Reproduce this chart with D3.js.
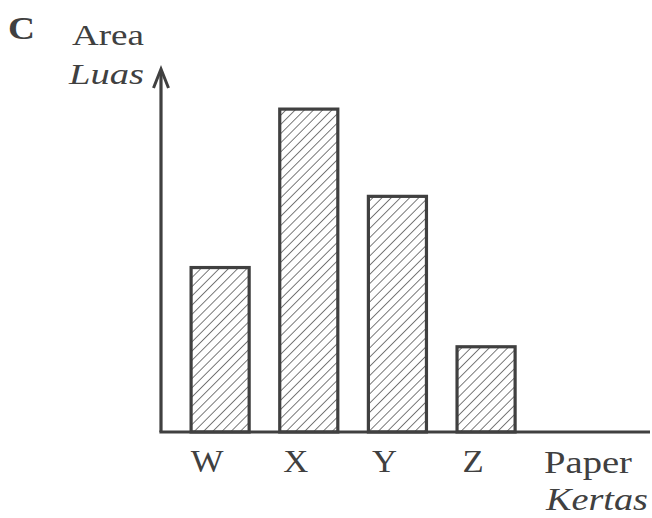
<!DOCTYPE html>
<html><head><meta charset="utf-8">
<script src="https://cdn.jsdelivr.net/npm/d3@7"></script>
<style>html,body{margin:0;padding:0;background:#fff;}svg{display:block;}</style>
</head><body>
<svg id="chart" width="652" height="518"></svg>
<script>
const categories = ["W", "X", "Y", "Z"];
const values = [16.4, 32.2, 23.5, 8.5];
const yMax = 36.2;
const yLabel = ["Area", "Luas"];
const xLabel = ["Paper", "Kertas"];
const panelLetter = "C";

(function () {
const svg = d3.select("#chart");
const ink = "#404040";
const serif = "'Liberation Serif','Times New Roman','DejaVu Serif',serif";
const base = 432, axTop = 69, x0 = 161, xEnd = 650;

const x = d3.scaleBand().domain(categories).range([175.8, 530.4]).paddingInner(0.345).paddingOuter(0.1725);
const y = d3.scaleLinear().domain([0, yMax]).range([base, axTop]);

const defs = svg.append("defs");
const pat = defs.append("pattern").attr("id", "hatch").attr("patternUnits", "userSpaceOnUse")
  .attr("width", 6.5).attr("height", 6.5).attr("patternTransform", "rotate(45)");
pat.append("line").attr("x1", 0).attr("y1", 0).attr("x2", 0).attr("y2", 6.5)
  .attr("stroke", "#333").attr("stroke-width", 1.3);

svg.append("g").selectAll("rect").data(values).join("rect")
  .attr("x", (d, i) => x(categories[i]))
  .attr("y", d => y(d))
  .attr("width", x.bandwidth())
  .attr("height", d => base - y(d))
  .attr("fill", "url(#hatch)")
  .attr("stroke", ink).attr("stroke-width", 3.2);

svg.append("line").attr("x1", x0).attr("y1", base).attr("x2", x0).attr("y2", axTop + 2)
  .attr("stroke", ink).attr("stroke-width", 3.2);
svg.append("line").attr("x1", x0 - 1.6).attr("y1", base).attr("x2", xEnd).attr("y2", base)
  .attr("stroke", ink).attr("stroke-width", 3.2);
svg.append("path").attr("d", `M${x0-7.5},${axTop+19} L${x0},${axTop} L${x0+7.5},${axTop+19}`)
  .attr("fill", "none").attr("stroke", ink).attr("stroke-width", 3).attr("stroke-linejoin", "miter");

const xAxis = svg.append("g").attr("transform", `translate(0,${base})`)
  .call(d3.axisBottom(x).tickSize(0).tickPadding(0));
xAxis.select(".domain").remove();
xAxis.selectAll("text").attr("y", 40).attr("dy", null).attr("dx", -13)
  .attr("font-family", serif).attr("font-size", 31).attr("fill", ink)
  .each(function () {
    const w = this.getComputedTextLength();
    d3.select(this).attr("textLength", w * 1.12).attr("lengthAdjust", "spacingAndGlyphs");
  });

function label(txt, xx, yy, size, w, opts) {
  const t = svg.append("text").attr("x", xx).attr("y", yy).text(txt)
    .attr("font-family", serif).attr("font-size", size).attr("fill", ink)
    .attr("textLength", w).attr("lengthAdjust", "spacingAndGlyphs");
  if (opts && opts.bold) t.attr("font-weight", "bold");
  if (opts && opts.italic) t.attr("font-style", "italic");
  return t;
}
label(panelLetter, 8, 39, 32, 27, {bold: true});
label(yLabel[0], 72, 45, 30, 72);
label(yLabel[1], 69, 84, 30, 75, {italic: true});
label(xLabel[0], 544, 473, 31, 88);
label(xLabel[1], 546, 510, 31, 102, {italic: true});
})();
</script>
</body></html>
